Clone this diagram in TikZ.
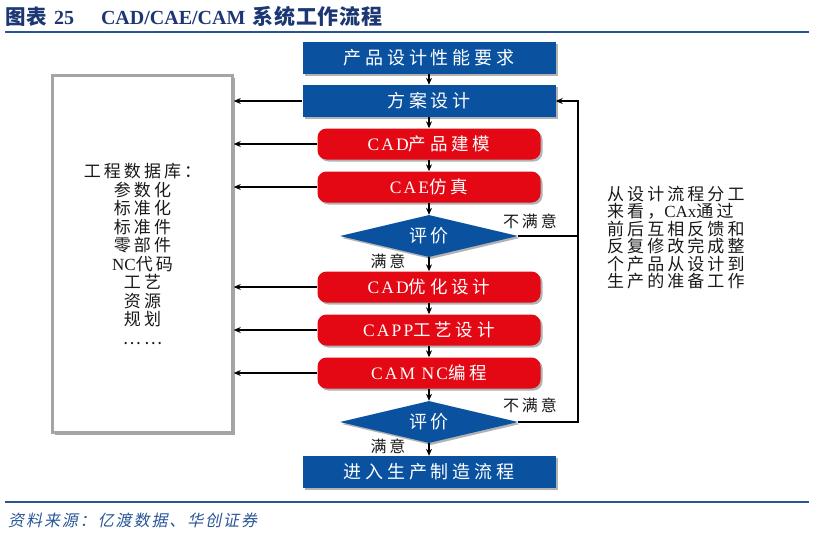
\documentclass[tikz,border=0pt]{standalone}
\usepackage{fontspec}
\setmainfont{Liberation Serif}
\newfontfamily\zhA[LetterSpace=22]{Noto Sans CJK SC}
\newfontfamily\zhB[LetterSpace=18]{Noto Sans CJK SC}
\newfontfamily\zhT[LetterSpace=4]{Noto Sans CJK SC}
\newfontfamily\zhF[LetterSpace=12,FakeSlant=0.2]{Noto Sans CJK SC}
\newfontfamily\lsA[LetterSpace=12]{Liberation Serif}
\usetikzlibrary{arrows.meta,shapes.geometric,shadows}
\definecolor{boxblue}{RGB}{10,82,160}
\definecolor{boxred}{RGB}{228,8,20}
\definecolor{titleblue}{RGB}{28,55,115}
\definecolor{lineblue}{RGB}{40,85,150}
\definecolor{dbgray}{RGB}{165,165,165}
\definecolor{ink}{RGB}{25,25,25}
\tikzset{
  shd/.style={drop shadow={shadow xshift=2pt,shadow yshift=-2pt,opacity=0.3,fill=black}},
  bluebox/.style={shd,fill=boxblue,draw=none,minimum width=253pt,minimum height=32pt,inner sep=0pt,text=white,font=\zhA\fontsize{18}{18}\selectfont},
  redbox/.style={shd,fill=boxred,draw=none,rounded corners=9pt,minimum width=223pt,minimum height=31pt,inner sep=0pt,text=white,font=\zhA\fontsize{17.5}{17.5}\selectfont},
  evalbox/.style={shd,diamond,fill=boxblue,draw=none,aspect=4.2,minimum width=178pt,minimum height=42pt,inner sep=0pt,text=white,font=\zhA\fontsize{18}{18}\selectfont},
  dbbox/.style={drop shadow={shadow xshift=2pt,shadow yshift=-2pt,opacity=0.35,fill=black},fill=white,draw=dbgray,line width=2.5pt,minimum width=180pt,minimum height=357pt,inner sep=0pt,align=center,text=ink,font=\zhB\fontsize{17}{18.55}\selectfont},
  arr/.style={-{Stealth[length=7pt,width=6pt]},line width=1.8pt,draw=black},
  conn/.style={line width=1.8pt,draw=black},
  lbl/.style={text=ink,inner sep=0pt,font=\zhB\fontsize{16}{16}\selectfont},
}
\begin{document}
\begin{tikzpicture}[x=1pt,y=-1pt]
\useasboundingbox (0,0) rectangle (814,533);
% title
\node[anchor=west,inner sep=0pt,text=titleblue,font=\fontsize{20}{20}\selectfont] (title) at (5,16)
  {{\zhT\fontsize{20.5}{20}\selectfont\bfseries 图表}\hspace{7pt}{\bfseries 25}\hspace{27pt}{\bfseries CAD/CAE/CAM}\hspace{7pt}{\zhT\fontsize{21}{20}\selectfont\bfseries 系统工作流程}};
\coordinate (tl1) at (5,32); \coordinate (tl2) at (809,32);
\draw[lineblue,line width=2pt] (tl1) -- (tl2);
% flow
\node[bluebox] (box1) at (429,58) {产品设计性能要求};
\node[bluebox] (box2) at (429,101) {方案设计};
\node[redbox] (red1) at (429,144) {{\lsA CAD}产品建模};
\node[redbox] (red2) at (429,187) {{\lsA CAE}仿真};
\node[evalbox] (dia1) at (429,236) {评价};
\node[redbox] (red3) at (429,287) {{\lsA CAD}优化设计};
\node[redbox] (red4) at (429,330) {{\lsA CAPP}工艺设计};
\node[redbox] (red5) at (429,373) {{\lsA CAM NC}编程};
\node[evalbox] (dia2) at (429,422) {评价};
\node[bluebox] (fin) at (429,472) {进入生产制造流程};
% database box
\node[dbbox] (db) at (142.5,254) {工程数据库：\\参数化\\标准化\\标准件\\零部件\\{\rmfamily NC}代码\\工艺\\资源\\规划\\……};
% vertical arrows
\draw[arr] (box1.south) -- (box2.north);
\draw[arr] (box2.south) -- (red1.north);
\draw[arr] (red1.south) -- (red2.north);
\draw[arr] (red2.south) -- (dia1.north);
\draw[arr] (dia1.south) -- (red3.north);
\draw[arr] (red3.south) -- (red4.north);
\draw[arr] (red4.south) -- (red5.north);
\draw[arr] (red5.south) -- (dia2.north);
\draw[arr] (dia2.south) -- (fin.north);
% arrows to database
\foreach \n in {box2,red1,red2,red3,red4,red5}
  \draw[arr] (\n.west) -- (\n.west -| db.east);
% feedback
\coordinate (fb) at (578,101);
\draw[conn] (dia1.east) -- (dia1.east -| fb);
\draw[arr] (dia2.east) -- (dia2.east -| fb) -- (fb) -- (box2.east);
% labels
\node[lbl] (ns1) at (530,221) {不满意};
\node[lbl] (ns2) at (530,405) {不满意};
\node[lbl] (s1) at (388,261) {满意};
\node[lbl] (s2) at (388,446) {满意};
% note
\node[anchor=north west,inner sep=0pt,align=left,text=ink,font=\zhB\fontsize{17}{17.4}\selectfont] (note) at (607,186)
  {从设计流程分工\\来看，{\rmfamily CAx}通过\\前后互相反馈和\\反复修改完成整\\个产品从设计到\\生产的准备工作};
% footer
\coordinate (fl1) at (5,502); \coordinate (fl2) at (809,502);
\draw[lineblue,line width=1.5pt] (fl1) -- (fl2);
\node[anchor=west,inner sep=0pt,text=lineblue,font=\zhF\fontsize{16}{16}\selectfont] (src) at (8,520) {资料来源：亿渡数据、华创证券};
\end{tikzpicture}
\end{document}
